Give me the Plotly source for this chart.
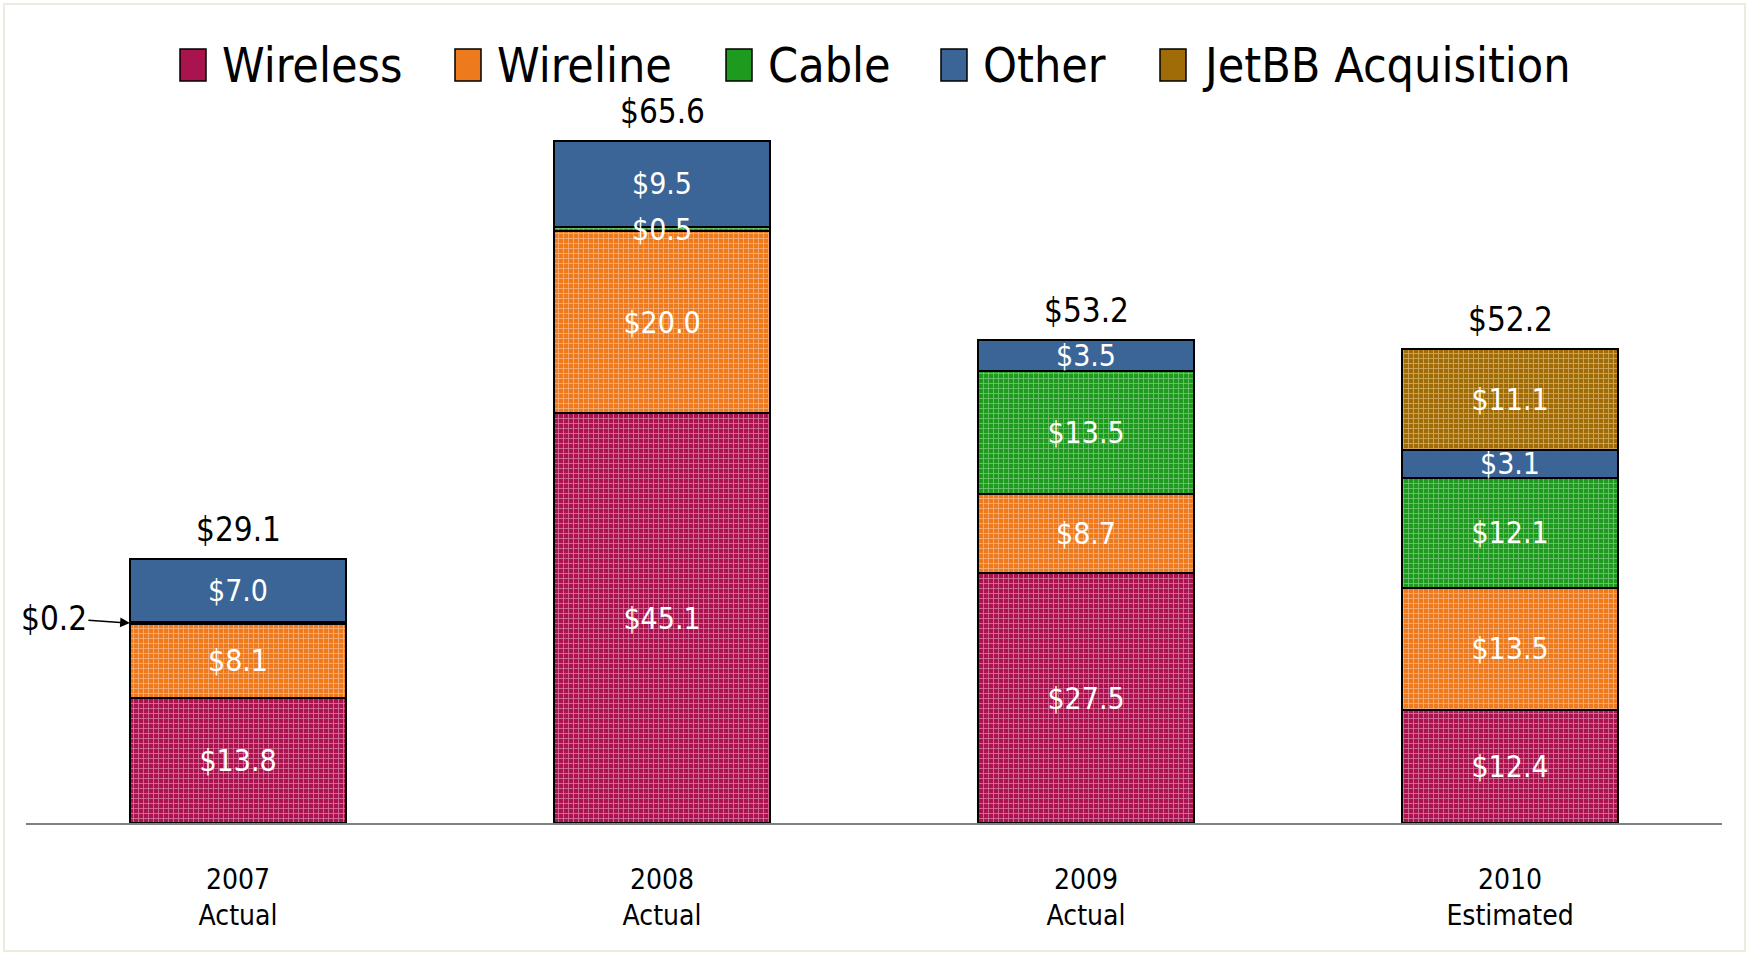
import plotly.graph_objects as go

# ---------------- data ----------------
categories = ["2007<br>Actual", "2008<br>Actual", "2009<br>Actual", "2010<br>Estimated"]
series_names = ["Wireless", "Wireline", "Cable", "Other", "JetBB Acquisition"]
wireless = [13.8, 45.1, 27.5, 12.4]
wireline = [8.1, 20.0, 8.7, 13.5]
cable = [0.2, 0.5, 13.5, 12.1]
other = [7.0, 9.5, 3.5, 3.1]
jetbb = [None, None, None, 11.1]
totals = [29.1, 65.6, 53.2, 52.2]
# label shown outside the bar (with arrow) for the 2007 cable slice
outside_label_index = 0

# ---------------- styles ----------------
FONT = "DejaVu Sans Condensed, DejaVu Sans, sans-serif"
base_colors = ["#A9144F", "#EE7A1E", "#1E9A1E", "#3C6597", "#A06C08"]
fg_colors = ["#DA74A0", "#F7B27C", "#72C872", None, "#D4AC62"]

W, H = 1748, 954
ML, MR, MT, MB = 26, 26, 96, 131
plot_w = W - ML - MR
plot_h = H - MT - MB
YMAX = 80


def px_x(p):
    return (p - ML) / plot_w


def px_y(p):
    return (H - MB - p) / plot_h


fig = go.Figure()
all_series = [wireless, wireline, cable, other, jetbb]
for idx, (name, vals) in enumerate(zip(series_names, all_series)):
    texts = []
    for i, v in enumerate(vals):
        if v is None or v < 1:
            texts.append("")
        else:
            texts.append(f"${v:.1f}")
    marker = dict(color=base_colors[idx], line=dict(color="black", width=2))
    if fg_colors[idx]:
        marker["pattern"] = dict(shape="+", size=5, solidity=0.3,
                                 fgcolor=fg_colors[idx], bgcolor=base_colors[idx],
                                 fillmode="replace")
    fig.add_trace(go.Bar(
        name=name, x=categories, y=vals, text=texts,
        textposition="inside", insidetextanchor="middle", textangle=0,
        textfont=dict(color="white", size=30, family=FONT),
        marker=marker, showlegend=False, hoverinfo="skip",
    ))

# tiny slice labels drawn on top of their slice (except the one pointed at from outside)
for idx, vals in enumerate(all_series):
    for i, v in enumerate(vals):
        if v is not None and v < 1 and not (idx == 2 and i == outside_label_index):
            below = sum(all_series[k][i] for k in range(idx) if all_series[k][i] is not None)
            fig.add_annotation(x=categories[i], y=below + v / 2, text=f"${v:.1f}",
                               showarrow=False, yanchor="middle",
                               font=dict(size=30, color="white", family=FONT))

# totals above bars
for i, cat in enumerate(categories):
    stack = sum(s[i] for s in all_series if s[i] is not None)
    fig.add_annotation(x=cat, y=stack, text=f"${totals[i]:.1f}", showarrow=False,
                       yanchor="bottom", yshift=8,
                       font=dict(size=33, color="black", family=FONT))

# outside label with arrow for the tiny 2007 cable slice
i = outside_label_index
y_c = wireless[i] + wireline[i] + cable[i] / 2
fig.add_annotation(x=i - 0.255, y=y_c, xref="x", yref="y",
                   text=f"${cable[i]:.1f}", showarrow=True,
                   ax=-76, ay=-5, arrowhead=2, arrowsize=1.3, arrowwidth=1.5,
                   arrowcolor="black", standoff=0,
                   font=dict(size=33, color="black", family=FONT))

# custom legend
legend_marker_x = [180, 455, 726, 941, 1160]
for name, color, mx in zip(series_names, base_colors, legend_marker_x):
    fig.add_shape(type="rect", xref="paper", yref="paper",
                  x0=px_x(mx), x1=px_x(mx + 26), y0=px_y(81), y1=px_y(49),
                  fillcolor=color, line=dict(color="black", width=1.5))
    fig.add_annotation(xref="paper", yref="paper", x=px_x(mx + 40), y=px_y(65),
                       text=name, showarrow=False, xanchor="left", yanchor="middle",
                       font=dict(size=48, color="black", family=FONT))

# beige frame
fig.add_shape(type="rect", xref="paper", yref="paper",
              x0=px_x(4), x1=px_x(1745), y0=px_y(951), y1=px_y(4),
              line=dict(color="#EEEBDD", width=2), fillcolor="rgba(0,0,0,0)",
              layer="below")

fig.update_layout(
    width=W, height=H, barmode="stack", bargap=0.49,
    margin=dict(l=ML, r=MR, t=MT, b=MB),
    paper_bgcolor="white", plot_bgcolor="white",
    font=dict(family=FONT, color="black"),
    uniformtext=dict(minsize=30, mode="show"),
    xaxis=dict(type="category", range=[-0.5, 3.5], showline=True, linecolor="#808080",
               linewidth=2, showgrid=False, ticks="", ticklabelstandoff=30,
               tickfont=dict(size=28, color="black", family=FONT), fixedrange=True),
    yaxis=dict(range=[0, YMAX], visible=False, showgrid=False, fixedrange=True),
)

fig.write_html("out.html", config={"displayModeBar": False},
               post_script="document.body.style.margin='0px';")
